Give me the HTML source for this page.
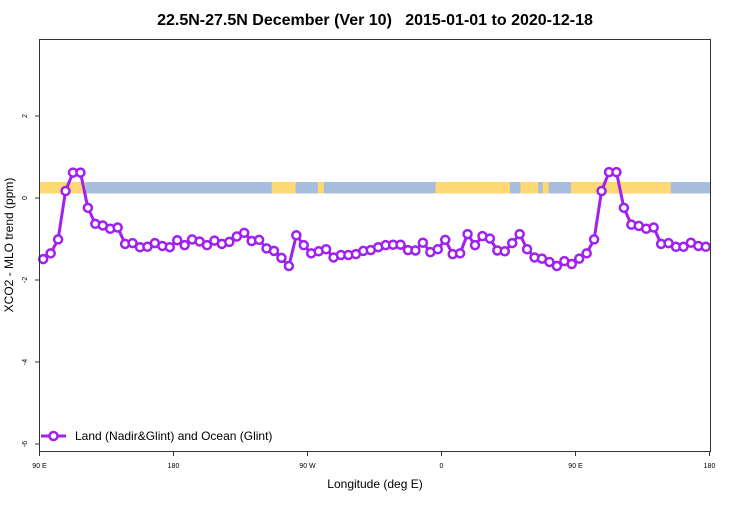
<!DOCTYPE html>
<html><head><meta charset="utf-8"><style>
body{margin:0;background:#fff;font-family:"Liberation Sans",sans-serif}
</style></head><body>
<svg id="chart" width="750" height="500" xmlns="http://www.w3.org/2000/svg" font-family="Liberation Sans, sans-serif">
<text x="375" y="25" text-anchor="middle" font-size="16" font-weight="bold" style="white-space:pre" xml:space="preserve">22.5N-27.5N December (Ver 10)   2015-01-01 to 2020-12-18</text>
<g id="band"></g>
<g id="series"></g>
<rect x="39.5" y="39.5" width="671" height="412" fill="none" stroke="#333" stroke-width="1"/>
<g id="axes"></g>
<text x="375" y="488" text-anchor="middle" font-size="12">Longitude (deg E)</text>
<text transform="translate(13,245) rotate(-90)" text-anchor="middle" font-size="12">XCO2 - MLO trend (ppm)</text>
<g>
<line x1="41" y1="436" x2="66" y2="436" stroke="#a020f0" stroke-width="3"/>
<circle cx="53.5" cy="436" r="4" fill="#fff" stroke="#a020f0" stroke-width="2.5"/>
<text x="75" y="440" font-size="12">Land (Nadir&amp;Glint) and Ocean (Glint)</text>
</g>
</svg>
<script>
const values=[-1.49,-1.35,-1.01,0.17,0.62,0.62,-0.24,-0.63,-0.67,-0.75,-0.72,-1.12,-1.1,-1.2,-1.19,-1.1,-1.17,-1.2,-1.03,-1.15,-1.01,-1.06,-1.15,-1.04,-1.12,-1.07,-0.94,-0.85,-1.05,-1.02,-1.23,-1.29,-1.46,-1.66,-0.91,-1.15,-1.35,-1.3,-1.25,-1.45,-1.39,-1.39,-1.37,-1.29,-1.27,-1.2,-1.15,-1.14,-1.14,-1.27,-1.28,-1.09,-1.32,-1.25,-1.02,-1.37,-1.35,-0.88,-1.15,-0.93,-0.99,-1.28,-1.3,-1.1,-0.88,-1.25,-1.45,-1.48,-1.56,-1.66,-1.54,-1.61,-1.48,-1.35,-1.01,0.17,0.63,0.63,-0.24,-0.65,-0.68,-0.75,-0.72,-1.12,-1.1,-1.19,-1.19,-1.09,-1.17,-1.19];
const startLon=92.5, stepLon=5;
const xTickPos=[90,180,270,360,450,540];
const xTickLabels=["90 E","180","90 W","0","90 E","180"];
const yTicks=[2,0,-2,-4,-6];
const landSpans=[[90,121],[246,262],[277,281],[356,406],[413,425],[428,432],[447,514]];
const NS="http://www.w3.org/2000/svg";
const xs=l=>39.5+(l-90)*1.4889;
const ys=v=>198-v*41;
function mk(t,a,p){const e=document.createElementNS(NS,t);for(const k in a)e.setAttribute(k,a[k]);p.appendChild(e);return e;}
const band=document.getElementById('band');
const b=mk('rect',{x:39.5,y:182,width:671,height:11.5,fill:'#a6bddb'},band);


landSpans.forEach(s=>{const r=mk('rect',{x:xs(s[0]),y:182,width:xs(s[1])-xs(s[0]),height:11.5,fill:'#fdd873'},band);

});
const ax=document.getElementById('axes');
xTickPos.forEach((p,i)=>{const x=xs(p);mk('line',{x1:x,y1:451.5,x2:x,y2:456,stroke:'#333'},ax);
const t=mk('text',{x:x,y:468,'text-anchor':'middle','font-size':'7'},ax);t.textContent=xTickLabels[i];

});
yTicks.forEach(v=>{const y=ys(v);mk('line',{x1:35,y1:y,x2:39.5,y2:y,stroke:'#333'},ax);
const t=mk('text',{transform:`translate(27,${y}) rotate(-90)`,'text-anchor':'middle','font-size':'7'},ax);t.textContent=String(v);

});
const sg=document.getElementById('series');
const pts=values.map((v,i)=>[xs(startLon+i*stepLon),ys(v)]);
const pl=mk('polyline',{points:pts.map(p=>p.join(',')).join(' '),fill:'none',stroke:'#a020f0','stroke-width':3,'stroke-linejoin':'round'},sg);


pts.forEach(p=>{const c=mk('circle',{cx:p[0],cy:p[1],r:4,fill:'#fff',stroke:'#a020f0','stroke-width':2.5},sg);

});
</script>
</body></html>
